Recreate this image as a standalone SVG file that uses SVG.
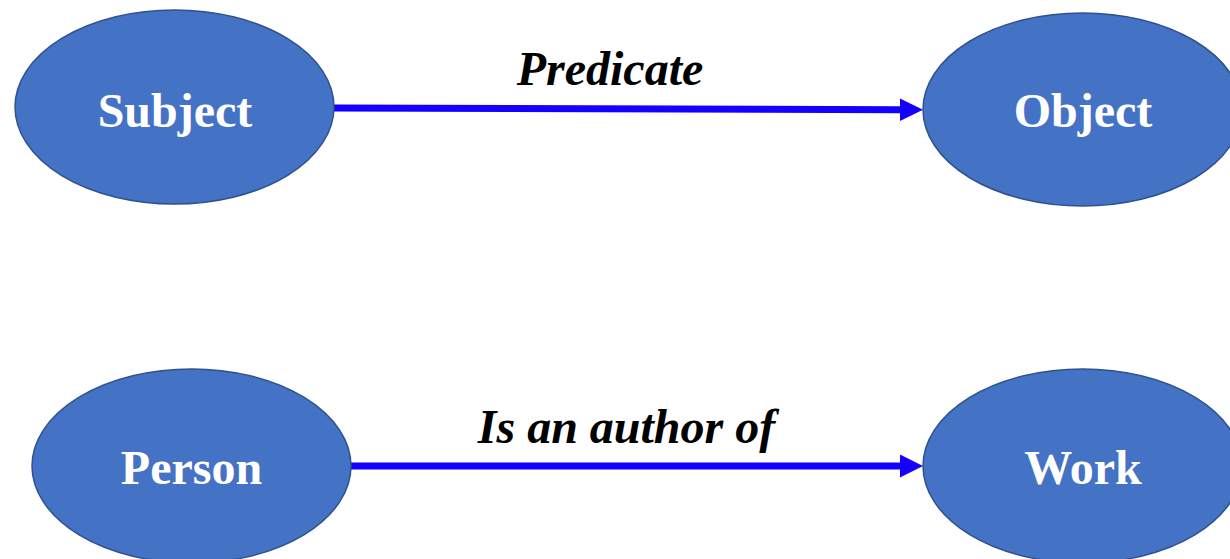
<svg xmlns="http://www.w3.org/2000/svg" width="1230" height="559" viewBox="0 0 1230 559">
<style>
.node{fill:#4472C4;stroke:#2F528F;stroke-width:1.5}
.nt{font-family:"Liberation Serif","Times New Roman",serif;font-weight:bold;font-size:48px;fill:#ffffff;text-anchor:middle}
.et{font-family:"Liberation Serif","Times New Roman",serif;font-weight:bold;font-style:italic;font-size:48px;fill:#000000;text-anchor:middle}
.edge{stroke:#1400FF;stroke-width:7;fill:none}
.head{fill:#1400FF}
</style>
<rect width="1230" height="559" fill="#ffffff"/>
<g id="connectors">
<line class="edge" x1="334" y1="108" x2="902" y2="109.8"/>
<polygon class="head" points="900,98.5 923,109.8 900,121"/>
<text class="et" x="610" y="85">Predicate</text>
<line class="edge" x1="351" y1="466" x2="902" y2="466"/>
<polygon class="head" points="900,454.5 923,466 900,477.5"/>
<text class="et" x="626.5" y="443">Is an author of</text>
</g>
<g id="subject">
<ellipse class="node" cx="174.5" cy="107" rx="159.5" ry="97"/>
<text class="nt" x="175" y="127">Subject</text>
</g>
<g id="object">
<ellipse class="node" cx="1082.5" cy="109.5" rx="159.5" ry="96.5"/>
<text class="nt" x="1083" y="127">Object</text>
</g>
<g id="person">
<ellipse class="node" cx="191.5" cy="466" rx="159.5" ry="97"/>
<text class="nt" x="191.5" y="484">Person</text>
</g>
<g id="work">
<ellipse class="node" cx="1082.5" cy="466" rx="159.5" ry="97"/>
<text class="nt" x="1083" y="484">Work</text>
</g>
</svg>
